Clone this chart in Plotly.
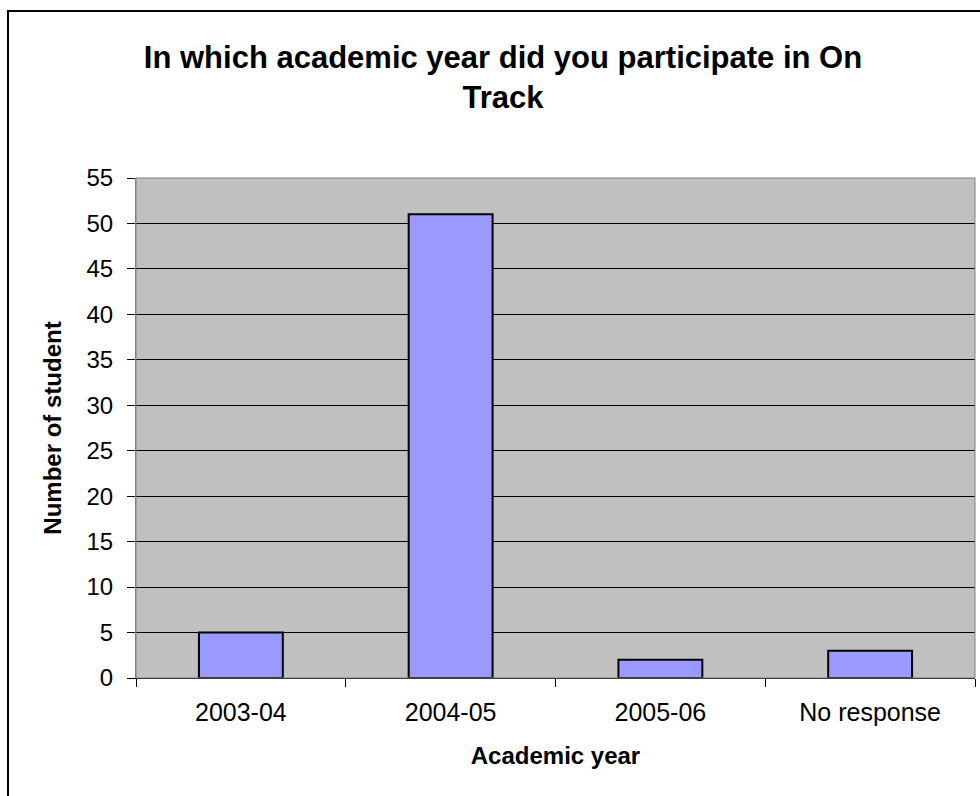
import plotly.graph_objects as go

# Survey responses: academic year of participation in On Track
categories = ["2003-04", "2004-05", "2005-06", "No response"]
students = [5, 51, 2, 3]
y_ticks = [0, 5, 10, 15, 20, 25, 30, 35, 40, 45, 50, 55]

W, H = 980, 796
L, R, T, B = 136, 5, 178, 118
plot_w = W - L - R
plot_h = H - T - B

def px_to_paper_x(px):
    return (px - L) / plot_w

def px_to_paper_y(py):
    return (H - B - py) / plot_h

fig = go.Figure()
fig.add_trace(go.Bar(
    x=categories,
    y=students,
    width=0.4,
    marker=dict(color="#9999FF", line=dict(color="black", width=2)),
    hoverinfo="x+y",
))

font_family = "Liberation Sans, Arial, sans-serif"

fig.update_layout(
    width=W,
    height=H,
    margin=dict(l=L, r=R, t=T, b=B, pad=0),
    paper_bgcolor="white",
    plot_bgcolor="#C0C0C0",
    showlegend=False,
    font=dict(family=font_family, color="black", size=24),
    title=dict(
        text="<b>In which academic year did you participate in On<br>Track</b>",
        x=px_to_paper_x(503),
        xref="paper",
        xanchor="center",
        y=1 - 68 / H,
        yanchor="middle",
        font=dict(size=31, family=font_family, color="black"),
    ),
    xaxis=dict(
        type="category",
        tickson="boundaries",
        ticks="outside",
        ticklen=8,
        tickcolor="black",
        ticklabelstandoff=12,
        showline=True,
        linecolor="black",
        linewidth=1,
        mirror=False,
        showgrid=False,
        tickfont=dict(size=25),
        title=dict(text="<b>Academic year</b>", font=dict(size=24), standoff=22),
    ),
    yaxis=dict(
        range=[0, 55],
        tickvals=y_ticks,
        ticks="outside",
        ticklen=8,
        tickcolor="black",
        ticklabelstandoff=9,
        showline=True,
        linecolor="#808080",
        linewidth=1,
        showgrid=True,
        gridcolor="black",
        gridwidth=1,
        zeroline=False,
        tickfont=dict(size=24),
        title=dict(text="<b>Number of student</b>", font=dict(size=24), standoff=18),
    ),
    shapes=[
        # plot-area frame (top and right edges)
        dict(type="rect", xref="paper", yref="paper", x0=0, y0=0, x1=1, y1=1,
             line=dict(color="#808080", width=1), layer="above"),
        # outer chart border
        dict(type="rect", xref="paper", yref="paper",
             x0=px_to_paper_x(8), y0=px_to_paper_y(H + 10),
             x1=px_to_paper_x(W + 10), y1=px_to_paper_y(11),
             line=dict(color="black", width=2), layer="above"),
    ],
)

fig.write_html("out.html")
